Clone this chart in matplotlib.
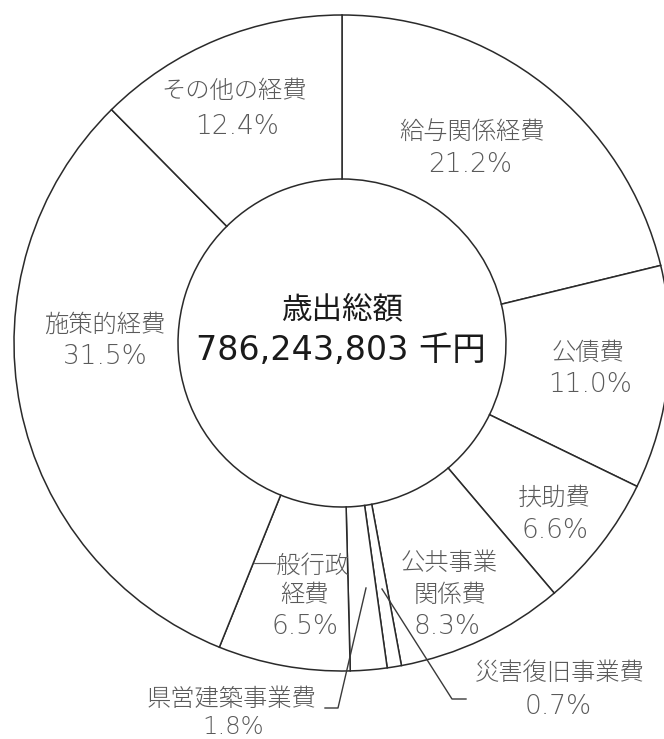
import matplotlib
matplotlib.use("Agg")
import matplotlib.pyplot as plt

plt.rcParams['font.family'] = ['Noto Sans CJK JP', 'DejaVu Sans']

# 歳出 内訳 (%), clockwise from the top
categories = ["給与関係経費", "公債費", "扶助費", "公共事業関係費", "災害復旧事業費",
              "県営建築事業費", "一般行政経費", "施策的経費", "その他の経費"]
shares = [21.2, 11.0, 6.6, 8.3, 0.7, 1.8, 6.5, 31.5, 12.4]
total_label = "786,243,803 千円"

# label layout: (text lines, pixel centre of name lines, pixel centre of percent)
name_lines = [["給与関係経費"], ["公債費"], ["扶助費"], ["公共事業", "関係費"], ["災害復旧事業費"],
              ["県営建築事業費"], ["一般行政", "経費"], ["施策的経費"], ["その他の経費"]]
name_pos = [[(472, 132)], [(588, 353)], [(554, 498)], [(449, 563), (450, 595)], [(560, 674)],
            [(231, 700)], [(301, 566), (305, 596)], [(105, 325)], [(234, 91)]]
pct_pos = [(470, 165), (590, 385), (555, 530), (447, 627), (558, 706),
           (233, 727), (305, 627), (105, 357), (237, 126)]
pct_size = [19, 19, 19, 19, 19, 17.5, 19, 19, 19]

W, H = 664, 739
cx, cy, R = 342, 343, 328


def to_data(px, py):
    return (px - cx) / R, (cy - py) / R


fig = plt.figure(figsize=(W / 100, H / 100), dpi=100)
ax = fig.add_axes([0, 0, 1, 1])

ax.pie(shares, startangle=90, counterclock=False, radius=1,
       wedgeprops=dict(width=0.5, facecolor='white', edgecolor='#2a2a2a', linewidth=1.1))

ax.set_xlim(-cx / R, (W - cx) / R)
ax.set_ylim(-(H - cy) / R, cy / R)
ax.set_aspect('equal', adjustable='datalim')
ax.axis('off')

label_color = '#5a5a5a'
for lines, positions, pp, val, fs in zip(name_lines, name_pos, pct_pos, shares, pct_size):
    for line, (px, py) in zip(lines, positions):
        x, y = to_data(px, py)
        ax.text(x, y, line, ha='center', va='center', fontsize=17.5, color=label_color,
                fontweight='light')
    x, y = to_data(*pp)
    ax.text(x, y, "{:.1f}%".format(val), ha='center', va='center', fontsize=fs,
            color=label_color, fontweight='light', family=['DejaVu Sans', 'Noto Sans CJK JP'])

# leader lines for the two thin slices
leaders = [[(366, 588), (338, 708), (325, 708)],
           [(382, 589), (452, 699), (466, 699)]]
for pts in leaders:
    xs, ys = zip(*[to_data(px, py) for px, py in pts])
    ax.plot(xs, ys, color='#3a3a3a', linewidth=1.0)

x, y = to_data(342, 310)
ax.text(x, y, "歳出総額", ha='center', va='center', fontsize=22, color='#1a1a1a')
x, y = to_data(341, 350)
ax.text(x, y, total_label, ha='center', va='center', fontsize=24, color='#1a1a1a',
        family=['DejaVu Sans', 'Noto Sans CJK JP'])

fig.savefig('out.png', dpi=100)
